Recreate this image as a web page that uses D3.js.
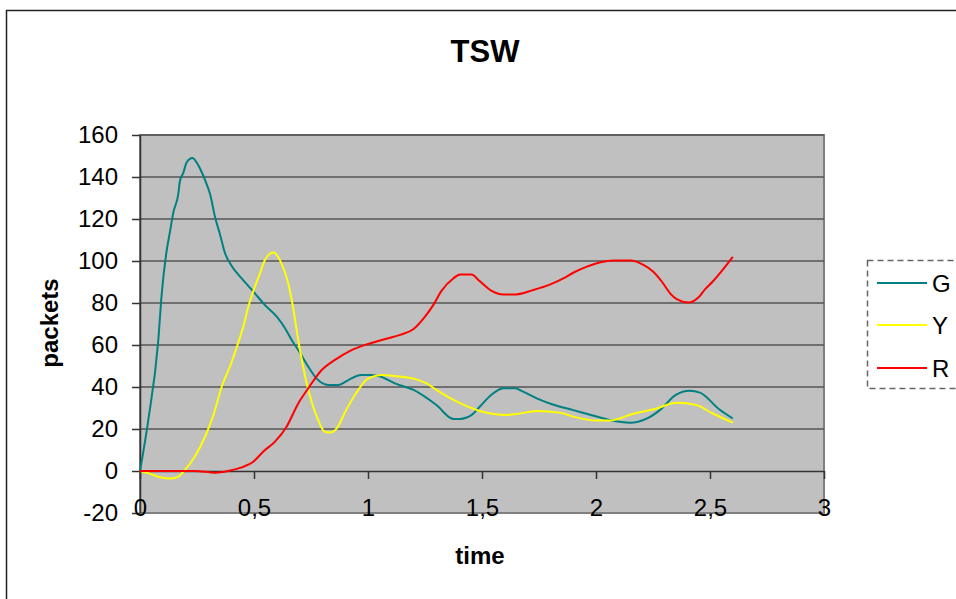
<!DOCTYPE html>
<html>
<head>
<meta charset="utf-8">
<script src="https://cdn.jsdelivr.net/npm/d3@7"></script>
<style>
  html, body { margin: 0; padding: 0; background: #fff; }
  svg { display: block; font-family: "Liberation Sans", Arial, sans-serif; }
</style>
</head>
<body>
<script>
// TSW: packets per colour class over time
const seriesNames = ["G", "Y", "R"];
const seriesColors = ["#008080", "#ffff00", "#ff0000"];

const gTime = [0, 0.036, 0.08, 0.095, 0.117, 0.13, 0.146, 0.168, 0.175, 0.19, 0.205, 0.23, 0.248, 0.27, 0.285, 0.307, 0.329, 0.35, 0.373, 0.40, 0.446, 0.504, 0.548, 0.6, 0.636, 0.665, 0.694, 0.738, 0.775, 0.826, 0.87, 0.914, 0.97, 1.016, 1.053, 1.118, 1.2, 1.30, 1.374, 1.404, 1.455, 1.49, 1.54, 1.594, 1.645, 1.68, 1.74, 1.81, 1.90, 1.99, 2.06, 2.15, 2.22, 2.28, 2.35, 2.41, 2.456, 2.54, 2.6];
const gValues = [0, 24, 62, 84, 105, 113, 123, 132, 138, 142, 147, 149, 147, 142.5, 138.6, 132, 121, 113, 103.7, 98, 91.7, 84.6, 79, 73.5, 68, 62.4, 57.6, 49.7, 44, 41, 41, 43.3, 45.7, 45.7, 45, 41.7, 38.6, 31.4, 24.8, 24.8, 26.7, 30.6, 36.2, 39.4, 39.4, 37.8, 34.6, 31.7, 29, 26.3, 24.3, 23, 24.8, 29, 36.2, 38.2, 37.3, 29.4, 25];

const yTime = [0, 0.036, 0.088, 0.139, 0.168, 0.197, 0.24, 0.285, 0.32, 0.358, 0.40, 0.43, 0.453, 0.475, 0.504, 0.526, 0.548, 0.585, 0.62, 0.65, 0.672, 0.694, 0.731, 0.775, 0.81, 0.833, 0.863, 0.90, 0.943, 1.0, 1.06, 1.118, 1.2, 1.257, 1.30, 1.39, 1.49, 1.61, 1.65, 1.74, 1.84, 1.90, 2.0, 2.06, 2.16, 2.266, 2.354, 2.44, 2.51, 2.6];
const yValues = [0, -1, -3, -3.6, -2.7, 0.5, 6.8, 16.3, 26, 40, 51.3, 60.8, 68.7, 78.2, 87.8, 94, 100.5, 104, 99, 89.4, 77.5, 62.4, 41.8, 26, 18.7, 18.3, 20.3, 28.2, 36.2, 44, 45.7, 45.2, 44, 41.7, 38.6, 33, 28.6, 26.7, 27.1, 28.6, 27.8, 25.9, 24, 24, 27.1, 29.8, 32.5, 31.4, 27.5, 23];

const rTime = [0, 0.24, 0.33, 0.387, 0.446, 0.497, 0.54, 0.592, 0.643, 0.694, 0.738, 0.797, 0.855, 0.928, 1.0, 1.06, 1.14, 1.2, 1.25, 1.286, 1.323, 1.374, 1.404, 1.455, 1.484, 1.54, 1.594, 1.65, 1.725, 1.80, 1.857, 1.90, 1.96, 2.02, 2.076, 2.15, 2.21, 2.25, 2.29, 2.325, 2.354, 2.405, 2.45, 2.478, 2.51, 2.6];
const rValues = [0, 0, -0.8, 0, 1.7, 4.4, 9.2, 14, 21.1, 32.2, 39.4, 48.1, 52.9, 57.6, 60.5, 62.4, 64.8, 67.6, 73.5, 79, 85.9, 91.7, 93.6, 93.6, 91, 85.9, 84.1, 84.1, 86.2, 88.9, 91.7, 94.4, 97.3, 99.4, 100.2, 100.2, 98, 95, 90, 84.6, 81.8, 80.2, 82.7, 86.5, 90, 102];

const xTicks = [0, 0.5, 1, 1.5, 2, 2.5, 3];
const yTicks = [-20, 0, 20, 40, 60, 80, 100, 120, 140, 160];
const gridValues = [20, 40, 60, 80, 100, 120, 140, 160];

const seriesTimes = [gTime, yTime, rTime];
const seriesValues = [gValues, yValues, rValues];

const W = 956, H = 599;
const plot = { left: 140, right: 824, top: 135, bottom: 513 };

const svg = d3.select("body").append("svg").attr("width", W).attr("height", H);

// outer chart border (runs off the right and bottom edges)
svg.append("rect")
  .attr("x", 6.5).attr("y", 10.5).attr("width", 1000).attr("height", 700)
  .attr("fill", "#fff").attr("stroke", "#222").attr("stroke-width", 1.5);

const x = d3.scaleLinear().domain([0, 3]).range([plot.left, plot.right]);
const y = d3.scaleLinear().domain([-20, 160]).range([plot.bottom, plot.top]);

const locale = d3.formatLocale({ decimal: ",", thousands: ".", grouping: [3], currency: ["", ""], minus: "-" });
const fmt = locale.format("~g");

// plot area
svg.append("rect")
  .attr("x", x(0)).attr("y", y(160))
  .attr("width", x(3) - x(0)).attr("height", y(-20) - y(160))
  .attr("fill", "#c0c0c0").attr("stroke", "#808080").attr("stroke-width", 2);

// horizontal gridlines
svg.append("g").selectAll("line").data(gridValues).join("line")
  .attr("x1", x(0)).attr("x2", x(3))
  .attr("y1", d => y(d)).attr("y2", d => y(d))
  .attr("stroke", "#555").attr("stroke-width", 1.5);

// y axis
const yAxis = svg.append("g")
  .attr("transform", `translate(${x(0)},0)`)
  .call(d3.axisLeft(y).tickValues(yTicks).tickFormat(fmt).tickSize(8).tickPadding(14).tickSizeOuter(0));
yAxis.select(".domain").attr("stroke", "#333").attr("stroke-width", 1.5);
yAxis.selectAll(".tick line").attr("stroke", "#333").attr("stroke-width", 1.5);
yAxis.selectAll(".tick text").attr("font-size", 24).attr("fill", "#000")
  .attr("font-family", "Liberation Sans, Arial, sans-serif");

// x axis crossing at zero
const xAxis = svg.append("g")
  .attr("transform", `translate(0,${y(0)})`)
  .call(d3.axisBottom(x).tickValues(xTicks).tickFormat(fmt).tickSize(8).tickPadding(20).tickSizeOuter(0));
xAxis.select(".domain").attr("stroke", "#333").attr("stroke-width", 1.5);
xAxis.selectAll(".tick line").attr("stroke", "#333").attr("stroke-width", 1.5);
xAxis.selectAll(".tick text").attr("font-size", 24).attr("fill", "#000")
  .attr("font-family", "Liberation Sans, Arial, sans-serif");

// series lines
const line = d3.line().x(d => x(d[0])).y(d => y(d[1])).curve(d3.curveMonotoneX);
seriesNames.forEach((name, i) => {
  const pts = seriesTimes[i].map((t, k) => [t, seriesValues[i][k]]);
  svg.append("path")
    .datum(pts)
    .attr("d", line)
    .attr("fill", "none")
    .attr("stroke", seriesColors[i])
    .attr("stroke-width", 2)
    .attr("stroke-linejoin", "round");
});

// titles
svg.append("text").attr("x", 485).attr("y", 62).attr("text-anchor", "middle")
  .attr("font-size", 31).attr("font-weight", "bold").text("TSW");
svg.append("text").attr("x", 480).attr("y", 564).attr("text-anchor", "middle")
  .attr("font-size", 24).attr("font-weight", "bold").text("time");
svg.append("text").attr("transform", "translate(58,323) rotate(-90)").attr("text-anchor", "middle")
  .attr("font-size", 24).attr("font-weight", "bold").text("packets");

// legend
const legend = svg.append("g");
legend.append("rect")
  .attr("x", 867.5).attr("y", 260.5).attr("width", 200).attr("height", 128)
  .attr("fill", "#fff").attr("stroke", "#666").attr("stroke-width", 1.5)
  .attr("stroke-dasharray", "6,4");
const legendY = [283, 325, 368];
seriesNames.forEach((name, i) => {
  legend.append("line")
    .attr("x1", 877).attr("x2", 927)
    .attr("y1", legendY[i]).attr("y2", legendY[i])
    .attr("stroke", seriesColors[i]).attr("stroke-width", 2);
  legend.append("text")
    .attr("x", 932).attr("y", legendY[i] + 8.5)
    .attr("font-size", 24).text(name);
});
</script>
</body>
</html>
